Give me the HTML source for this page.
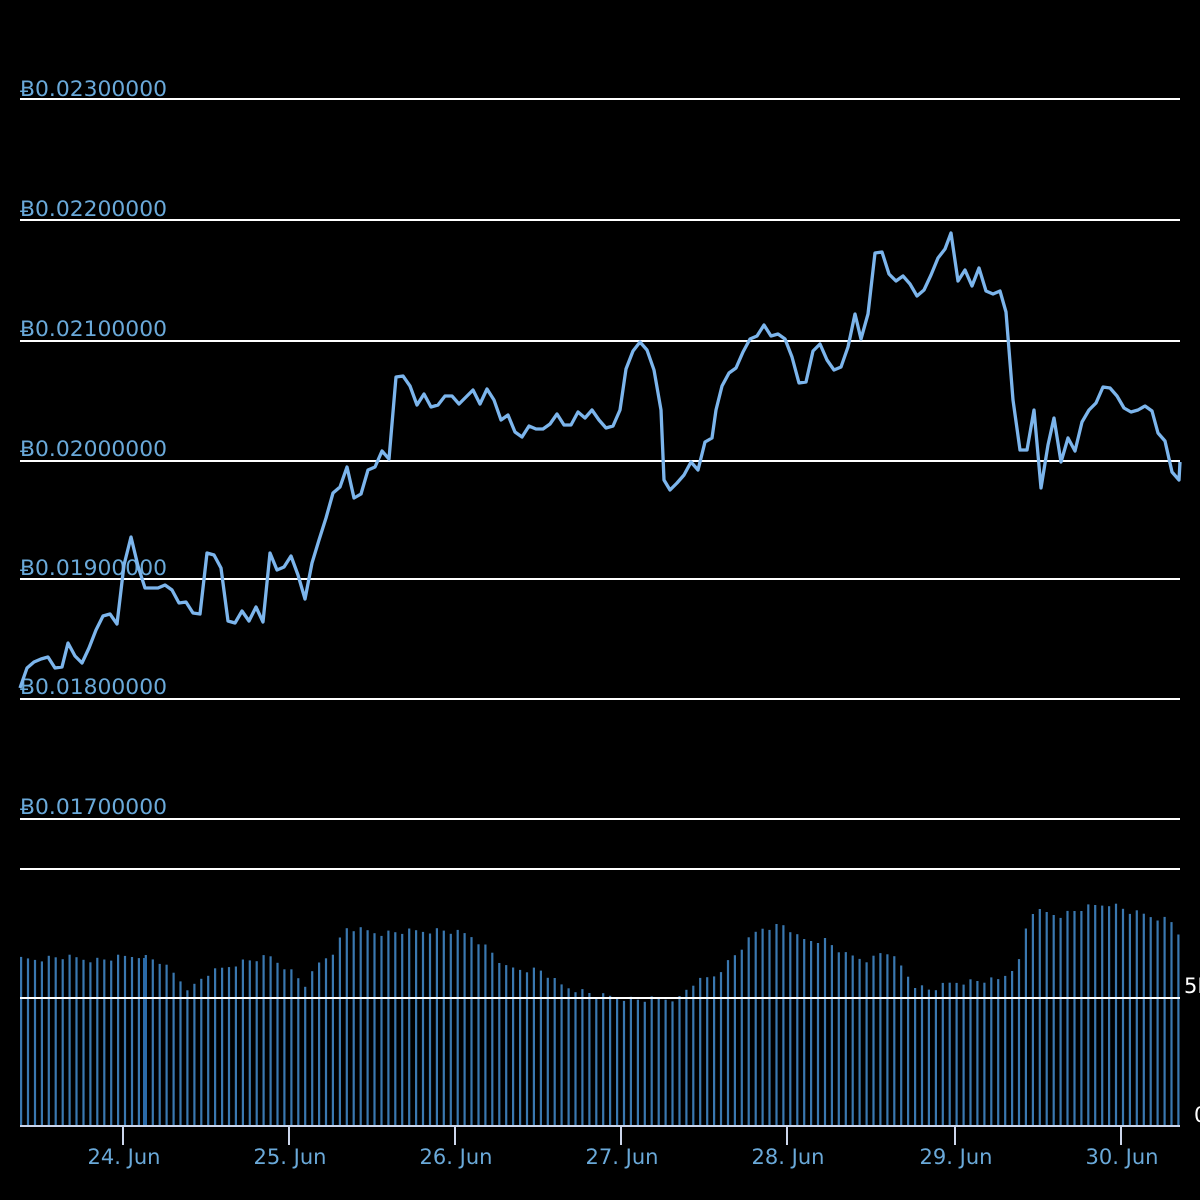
<!DOCTYPE html>
<html><head><meta charset="utf-8"><style>
html,body{margin:0;padding:0;background:#000;width:1200px;height:1200px;overflow:hidden}
svg{display:block}
text{font-family:"DejaVu Sans","Liberation Sans",sans-serif}
</style></head><body>
<svg id="s" width="1200" height="1200" xmlns="http://www.w3.org/2000/svg">
<rect width="1200" height="1200" fill="#000"/>
<g id="bars"></g>
<g stroke="#ffffff" stroke-width="2">
<line x1="20" x2="1180" y1="99" y2="99"/>
<line x1="20" x2="1180" y1="220" y2="220"/>
<line x1="20" x2="1180" y1="341" y2="341"/>
<line x1="20" x2="1180" y1="461" y2="461"/>
<line x1="20" x2="1180" y1="579" y2="579"/>
<line x1="20" x2="1180" y1="699" y2="699"/>
<line x1="20" x2="1180" y1="819" y2="819"/>
<line x1="20" x2="1180" y1="869" y2="869"/>
<line x1="20" x2="1180" y1="998" y2="998"/>
</g>
<g stroke="#ccd6eb" stroke-width="2">
<line x1="20" x2="1180" y1="1126" y2="1126"/>
<line x1="123" x2="123" y1="1126" y2="1145"/>
<line x1="289" x2="289" y1="1126" y2="1145"/>
<line x1="455" x2="455" y1="1126" y2="1145"/>
<line x1="621" x2="621" y1="1126" y2="1145"/>
<line x1="787" x2="787" y1="1126" y2="1145"/>
<line x1="955" x2="955" y1="1126" y2="1145"/>
<line x1="1121" x2="1121" y1="1126" y2="1145"/>
</g>
<g fill="#6aa9d9" font-size="21">
<text x="20" y="96" textLength="147" lengthAdjust="spacingAndGlyphs">Ƀ0.02300000</text>
<text x="20" y="216" textLength="147" lengthAdjust="spacingAndGlyphs">Ƀ0.02200000</text>
<text x="20" y="336" textLength="147" lengthAdjust="spacingAndGlyphs">Ƀ0.02100000</text>
<text x="20" y="456" textLength="147" lengthAdjust="spacingAndGlyphs">Ƀ0.02000000</text>
<text x="20" y="575" textLength="147" lengthAdjust="spacingAndGlyphs">Ƀ0.01900000</text>
<text x="20" y="694" textLength="147" lengthAdjust="spacingAndGlyphs">Ƀ0.01800000</text>
<text x="20" y="814" textLength="147" lengthAdjust="spacingAndGlyphs">Ƀ0.01700000</text>
</g>
<g fill="#6aa9d9" font-size="21" text-anchor="middle">
<text x="124" y="1164">24. Jun</text>
<text x="290" y="1164">25. Jun</text>
<text x="456" y="1164">26. Jun</text>
<text x="622" y="1164">27. Jun</text>
<text x="788" y="1164">28. Jun</text>
<text x="956" y="1164">29. Jun</text>
<text x="1122" y="1164">30. Jun</text>
</g>
<g fill="#ffffff" font-size="21">
<text x="1184" y="993">5M</text>
<text x="1194" y="1122">0</text>
</g>
<polyline fill="none" stroke="#7cb5ec" stroke-width="3.3" stroke-linejoin="round" points="20,688 27,668 34,662 41,659 48,657 55,668 62,667 68,643 75,656 82,663 89,648 96,630 103,616 110,614 117,624 124,565 131,537 138,566 145,588 152,588 158,588 165,585 172,590 179,603 186,602 193,613 200,614 207,553 214,555 221,568 228,621 235,623 242,611 249,621 256,607 263,622 270,553 277,570 284,567 291,556 298,575 305,599 312,563 319,540 326,518 333,493 340,487 347,467 354,498 361,494 368,470 375,467 382,451 389,459 396,377 403,376 410,386 417,405 424,394 431,407 438,405 445,396 452,396 459,404 466,397 473,390 480,404 487,389 494,400 501,420 508,415 515,432 522,437 529,426 536,429 543,429 550,424 557,414 564,425 571,425 578,412 585,418 592,410 599,420 606,428 613,426 620,410 626,369 633,351 640,342 647,350 654,370 661,410 664,480 670,490 677,483 684,475 691,462 698,470 705,442 712,438 716,410 722,386 729,373 736,368 743,352 750,339 757,336 764,325 771,336 778,334 785,339 792,357 799,383 806,382 813,351 820,344 827,360 834,370 841,367 848,347 855,314 861,339 868,314 875,253 882,252 889,274 896,281 903,276 910,284 917,296 924,290 931,275 938,258 945,249 951,233 958,281 965,270 972,286 979,268 986,291 993,294 1000,291 1006,312 1013,400 1020,450 1027,450 1034,410 1041,488 1048,445 1054,418 1061,462 1068,438 1075,451 1082,422 1089,410 1096,403 1103,387 1110,388 1117,396 1124,408 1131,412 1138,410 1145,406 1152,411 1158,433 1165,441 1172,472 1179,480 1180,462"/>
</svg>
<script>
(function(){
var k=[[20,960],[60,957],[100,960],[140,955],[160,962],[175,975],[190,990],[205,975],[240,962],[270,957],[290,970],[305,985],[320,962],[335,950],[345,928],[380,933],[440,930],[470,935],[490,950],[505,968],[540,970],[560,985],[600,996],[625,998],[640,1000],[680,998],[690,985],[715,975],[735,955],[760,928],[785,925],[800,940],[825,940],[845,955],[870,960],[885,950],[900,965],[915,985],[930,990],[955,982],[1000,980],[1015,965],[1022,958],[1028,912],[1040,912],[1060,915],[1085,908],[1110,903],[1130,912],[1170,920],[1180,935]];
function f(x){for(var i=0;i<k.length-1;i++){if(x>=k[i][0]&&x<=k[i+1][0]){var t=(x-k[i][0])/(k[i+1][0]-k[i][0]);return k[i][1]+t*(k[i+1][1]-k[i][1]);}}return k[k.length-1][1];}
var g=document.getElementById('bars'),h='';
for(var i=0;i<168;i++){var x=21+i*6.93;if(x>1180)break;var y=f(x)+((i*37)%7-3);
h+='<rect x="'+(x-1).toFixed(1)+'" y="'+y.toFixed(1)+'" width="2.2" height="'+(1126-y).toFixed(1)+'" fill="#3a78b0"/>';}
h+='<rect x="143" y="958" width="4" height="168" fill="#2a6aa8"/>';
g.innerHTML=h;
})();
</script>
</body></html>
